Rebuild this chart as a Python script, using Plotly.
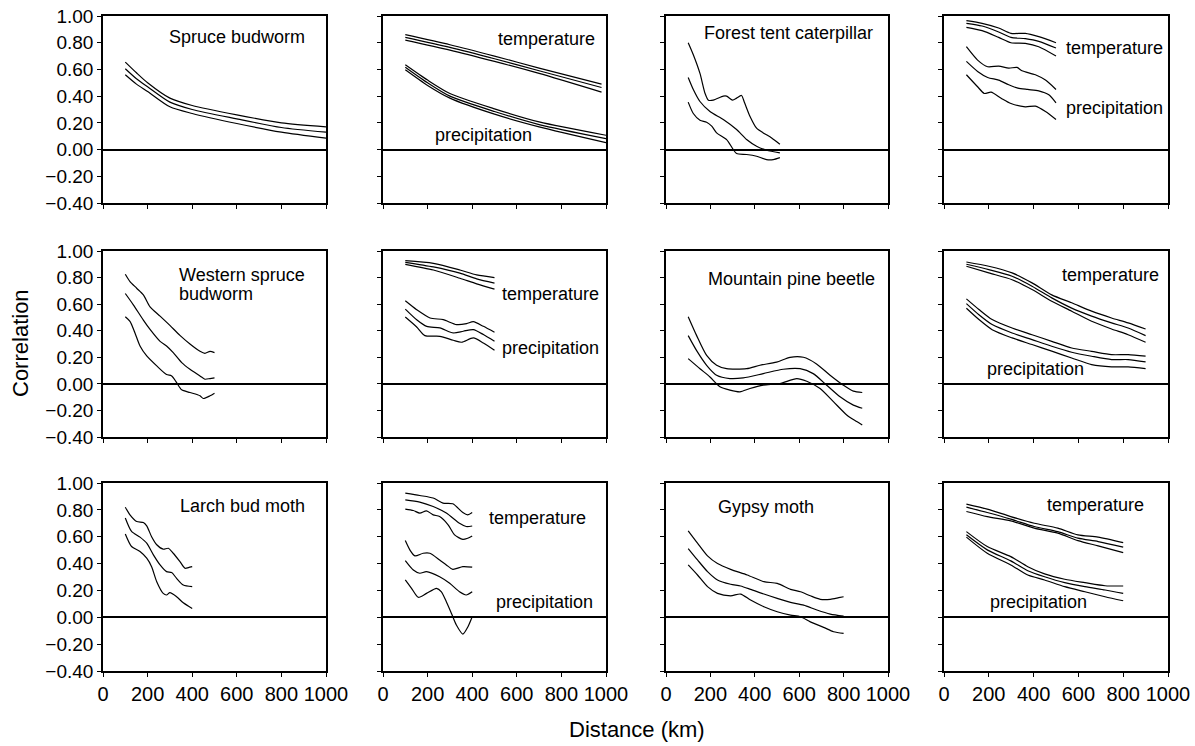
import plotly.graph_objects as go

# ---------------- data ----------------
# Panel 1: Spruce budworm
SB_X = [100, 150, 200, 300, 400, 600, 800, 1000]
SB_HI = [0.655, 0.575, 0.50, 0.385, 0.33, 0.26, 0.20, 0.17]
SB_MID = [0.605, 0.53, 0.47, 0.355, 0.30, 0.23, 0.165, 0.13]
SB_LO = [0.56, 0.49, 0.435, 0.32, 0.27, 0.195, 0.13, 0.085]

# Panel 2: climate for spruce budworm
C1_TX = [100, 300, 500, 700, 980]
C1_T_HI = [0.86, 0.785, 0.70, 0.61, 0.49]
C1_T_MID = [0.84, 0.765, 0.68, 0.59, 0.465]
C1_T_LO = [0.82, 0.745, 0.66, 0.57, 0.43]
C1_PX = [100, 200, 300, 500, 700, 1000]
C1_P_HI = [0.635, 0.52, 0.42, 0.305, 0.207, 0.107]
C1_P_MID = [0.617, 0.50, 0.40, 0.285, 0.187, 0.082]
C1_P_LO = [0.597, 0.48, 0.385, 0.265, 0.17, 0.052]

# Panel 3: Forest tent caterpillar
FT_HI_X = [100, 123, 153, 176, 191, 213, 258, 273, 300, 318, 340, 354, 378, 408, 438, 476, 513]
FT_HI = [0.80, 0.71, 0.57, 0.42, 0.37, 0.37, 0.40, 0.40, 0.37, 0.385, 0.405, 0.35, 0.25, 0.16, 0.125, 0.087, 0.04]
FT_MID_X = [100, 123, 153, 198, 258, 318, 363, 408, 453, 513]
FT_MID = [0.54, 0.45, 0.36, 0.285, 0.225, 0.15, 0.075, 0.025, -0.005, -0.025]
FT_LO_X = [100, 123, 153, 183, 206, 228, 273, 303, 318, 363, 408, 453, 483, 513]
FT_LO = [0.355, 0.27, 0.22, 0.205, 0.175, 0.125, 0.075, 0.0, -0.03, -0.037, -0.05, -0.075, -0.075, -0.06]

# Panel 4: climate for forest tent caterpillar
C2_TX = [100, 170, 244, 299, 363, 423, 500]
C2_T_HI = [0.965, 0.945, 0.91, 0.87, 0.87, 0.845, 0.80]
C2_T_MID = [0.945, 0.925, 0.88, 0.84, 0.83, 0.81, 0.76]
C2_T_LO = [0.915, 0.89, 0.84, 0.80, 0.795, 0.77, 0.70]
C2_P_HI_X = [100, 150, 195, 244, 289, 326, 348, 408, 453, 500]
C2_P_HI = [0.77, 0.67, 0.62, 0.625, 0.61, 0.615, 0.59, 0.56, 0.52, 0.45]
C2_P_MID_X = [100, 150, 195, 244, 289, 330, 374, 423, 468, 500]
C2_P_MID = [0.66, 0.585, 0.54, 0.52, 0.485, 0.46, 0.45, 0.44, 0.41, 0.35]
C2_P_LO_X = [100, 150, 180, 210, 255, 299, 363, 408, 453, 500]
C2_P_LO = [0.56, 0.47, 0.42, 0.43, 0.385, 0.345, 0.32, 0.325, 0.285, 0.225]

# Panel 5: Western spruce budworm
WS_HI_X = [100, 121, 151, 181, 211, 256, 300, 345, 390, 435, 457, 480, 500]
WS_HI = [0.825, 0.77, 0.72, 0.67, 0.58, 0.51, 0.44, 0.365, 0.30, 0.245, 0.23, 0.245, 0.235]
WS_MID_X = [100, 136, 181, 211, 256, 285, 315, 353, 390, 435, 457, 480, 500]
WS_MID = [0.68, 0.595, 0.48, 0.41, 0.32, 0.285, 0.235, 0.16, 0.11, 0.06, 0.035, 0.04, 0.045]
WS_LO_X = [100, 121, 143, 166, 196, 241, 285, 308, 330, 353, 390, 435, 450, 480, 500]
WS_LO = [0.505, 0.47, 0.385, 0.285, 0.21, 0.135, 0.07, 0.06, 0.01, -0.045, -0.065, -0.09, -0.11, -0.09, -0.07]

# Panel 6: climate for western spruce budworm
C3_TX = [100, 226, 345, 420, 500]
C3_T_HI = [0.927, 0.907, 0.857, 0.82, 0.80]
C3_T_MID = [0.915, 0.88, 0.833, 0.79, 0.758]
C3_T_LO = [0.90, 0.857, 0.795, 0.753, 0.713]
C3_P_HI_X = [100, 151, 211, 270, 330, 375, 405, 450, 500]
C3_P_HI = [0.625, 0.558, 0.496, 0.483, 0.446, 0.453, 0.468, 0.433, 0.388]
C3_P_MID_X = [100, 151, 196, 255, 315, 360, 405, 450, 500]
C3_P_MID = [0.563, 0.483, 0.433, 0.421, 0.383, 0.396, 0.408, 0.371, 0.32]
C3_P_LO_X = [100, 151, 188, 255, 315, 352, 405, 450, 500]
C3_P_LO = [0.503, 0.428, 0.363, 0.358, 0.328, 0.313, 0.346, 0.308, 0.253]

# Panel 7: Mountain pine beetle
MP_HI_X = [100, 138, 183, 228, 273, 363, 423, 498, 559, 619, 678, 739, 799, 844, 884]
MP_HI = [0.505, 0.363, 0.214, 0.14, 0.114, 0.114, 0.14, 0.164, 0.20, 0.20, 0.15, 0.065, -0.01, -0.055, -0.065]
MP_MID_X = [100, 138, 183, 228, 288, 348, 438, 528, 604, 663, 724, 784, 844, 884]
MP_MID = [0.363, 0.25, 0.14, 0.065, 0.04, 0.045, 0.077, 0.11, 0.114, 0.077, -0.01, -0.097, -0.16, -0.184]
MP_LO_X = [100, 153, 198, 243, 288, 333, 378, 438, 513, 589, 634, 694, 754, 814, 859, 884]
MP_LO = [0.19, 0.114, 0.052, -0.022, -0.047, -0.06, -0.035, -0.01, 0.002, 0.04, 0.02, -0.035, -0.134, -0.234, -0.284, -0.31]

# Panel 8: climate for mountain pine beetle
C4_TX = [100, 200, 304, 393, 481, 570, 659, 748, 822, 900]
C4_T_HI = [0.917, 0.885, 0.835, 0.76, 0.67, 0.61, 0.547, 0.496, 0.459, 0.413]
C4_T_MID = [0.90, 0.86, 0.81, 0.735, 0.647, 0.57, 0.51, 0.459, 0.42, 0.363]
C4_T_LO = [0.885, 0.835, 0.784, 0.71, 0.622, 0.547, 0.471, 0.413, 0.37, 0.313]
C4_PX = [100, 156, 215, 304, 393, 481, 570, 659, 748, 822, 900]
C4_P_HI = [0.64, 0.56, 0.484, 0.42, 0.37, 0.32, 0.27, 0.245, 0.22, 0.22, 0.208]
C4_P_MID = [0.604, 0.52, 0.446, 0.383, 0.333, 0.283, 0.238, 0.208, 0.183, 0.183, 0.165]
C4_P_LO = [0.569, 0.484, 0.408, 0.346, 0.296, 0.246, 0.195, 0.145, 0.128, 0.128, 0.115]

# Panel 9: Larch bud moth
LB_HI_X = [100, 121, 151, 181, 196, 218, 241, 270, 293, 315, 345, 368, 383, 400]
LB_HI = [0.82, 0.763, 0.713, 0.706, 0.681, 0.60, 0.54, 0.507, 0.514, 0.477, 0.415, 0.365, 0.37, 0.377]
LB_MID_X = [100, 128, 166, 196, 226, 256, 285, 308, 330, 360, 400]
LB_MID = [0.74, 0.64, 0.597, 0.552, 0.465, 0.39, 0.34, 0.333, 0.29, 0.24, 0.228]
LB_LO_X = [100, 128, 166, 196, 218, 241, 270, 285, 300, 330, 360, 400]
LB_LO = [0.62, 0.527, 0.49, 0.44, 0.377, 0.265, 0.178, 0.166, 0.183, 0.153, 0.108, 0.066]

# Panel 10: climate for larch bud moth
C5_T_HI_X = [100, 165, 225, 269, 313, 358, 380, 400]
C5_T_HI = [0.925, 0.907, 0.888, 0.85, 0.845, 0.78, 0.763, 0.78]
C5_T_MID_X = [100, 165, 225, 284, 343, 373, 400]
C5_T_MID = [0.875, 0.858, 0.825, 0.776, 0.70, 0.676, 0.68]
C5_T_LO_X = [100, 136, 165, 195, 225, 254, 292, 321, 358, 380, 400]
C5_T_LO = [0.806, 0.795, 0.776, 0.793, 0.763, 0.75, 0.689, 0.614, 0.58, 0.589, 0.606]
C5_P_HI_X = [100, 121, 143, 180, 210, 254, 284, 313, 358, 400]
C5_P_HI = [0.571, 0.50, 0.457, 0.477, 0.477, 0.427, 0.39, 0.357, 0.377, 0.373]
C5_P_MID_X = [100, 136, 165, 195, 254, 299, 343, 373, 400]
C5_P_MID = [0.422, 0.352, 0.328, 0.34, 0.302, 0.253, 0.19, 0.166, 0.19]
C5_P_LO_X = [100, 128, 158, 195, 240, 262, 284, 307, 329, 358, 381, 400]
C5_P_LO = [0.278, 0.216, 0.149, 0.178, 0.216, 0.19, 0.116, 0.029, -0.058, -0.125, -0.07, 0.004]

# Panel 11: Gypsy moth
GM_HI_X = [100, 142, 187, 232, 291, 366, 441, 501, 561, 606, 650, 695, 740, 778, 800]
GM_HI = [0.644, 0.552, 0.457, 0.40, 0.357, 0.315, 0.265, 0.253, 0.208, 0.19, 0.16, 0.134, 0.134, 0.146, 0.153]
GM_MID_X = [100, 142, 187, 232, 291, 336, 381, 441, 501, 561, 620, 680, 740, 800]
GM_MID = [0.512, 0.427, 0.34, 0.278, 0.246, 0.233, 0.208, 0.173, 0.141, 0.111, 0.091, 0.054, 0.024, 0.009]
GM_LO_X = [100, 142, 187, 232, 291, 336, 381, 441, 501, 561, 606, 650, 710, 755, 800]
GM_LO = [0.39, 0.315, 0.228, 0.178, 0.16, 0.173, 0.128, 0.078, 0.041, 0.016, 0.004, -0.034, -0.075, -0.108, -0.12]

# Panel 12: climate for gypsy moth
C6_TX = [100, 193, 298, 403, 508, 598, 688, 800]
C6_T_HI = [0.843, 0.806, 0.75, 0.70, 0.664, 0.614, 0.597, 0.556]
C6_T_MID = [0.82, 0.78, 0.731, 0.676, 0.638, 0.589, 0.564, 0.522]
C6_T_LO = [0.788, 0.75, 0.718, 0.664, 0.627, 0.571, 0.532, 0.482]
C6_PX = [100, 193, 298, 374, 449, 539, 629, 719, 800]
C6_P_HI = [0.638, 0.527, 0.452, 0.377, 0.323, 0.283, 0.258, 0.235, 0.233]
C6_P_MID = [0.614, 0.502, 0.42, 0.347, 0.302, 0.258, 0.228, 0.203, 0.178]
C6_P_LO = [0.597, 0.477, 0.39, 0.315, 0.278, 0.228, 0.19, 0.153, 0.123]

X_TICKS = [0, 200, 400, 600, 800, 1000]
Y_TICKS = [-0.4, -0.2, 0.0, 0.2, 0.4, 0.6, 0.8, 1.0]
Y_TICK_TEXT = ["\u22120.40", "\u22120.20", "0.00", "0.20", "0.40", "0.60", "0.80", "1.00"]

# panel contents: list of (x, y) line pairs, and labels (text, x, y)
PANELS = [
    [(SB_X, SB_HI), (SB_X, SB_MID), (SB_X, SB_LO)],
    [(C1_TX, C1_T_HI), (C1_TX, C1_T_MID), (C1_TX, C1_T_LO),
     (C1_PX, C1_P_HI), (C1_PX, C1_P_MID), (C1_PX, C1_P_LO)],
    [(FT_HI_X, FT_HI), (FT_MID_X, FT_MID), (FT_LO_X, FT_LO)],
    [(C2_TX, C2_T_HI), (C2_TX, C2_T_MID), (C2_TX, C2_T_LO),
     (C2_P_HI_X, C2_P_HI), (C2_P_MID_X, C2_P_MID), (C2_P_LO_X, C2_P_LO)],
    [(WS_HI_X, WS_HI), (WS_MID_X, WS_MID), (WS_LO_X, WS_LO)],
    [(C3_TX, C3_T_HI), (C3_TX, C3_T_MID), (C3_TX, C3_T_LO),
     (C3_P_HI_X, C3_P_HI), (C3_P_MID_X, C3_P_MID), (C3_P_LO_X, C3_P_LO)],
    [(MP_HI_X, MP_HI), (MP_MID_X, MP_MID), (MP_LO_X, MP_LO)],
    [(C4_TX, C4_T_HI), (C4_TX, C4_T_MID), (C4_TX, C4_T_LO),
     (C4_PX, C4_P_HI), (C4_PX, C4_P_MID), (C4_PX, C4_P_LO)],
    [(LB_HI_X, LB_HI), (LB_MID_X, LB_MID), (LB_LO_X, LB_LO)],
    [(C5_T_HI_X, C5_T_HI), (C5_T_MID_X, C5_T_MID), (C5_T_LO_X, C5_T_LO),
     (C5_P_HI_X, C5_P_HI), (C5_P_MID_X, C5_P_MID), (C5_P_LO_X, C5_P_LO)],
    [(GM_HI_X, GM_HI), (GM_MID_X, GM_MID), (GM_LO_X, GM_LO)],
    [(C6_TX, C6_T_HI), (C6_TX, C6_T_MID), (C6_TX, C6_T_LO),
     (C6_PX, C6_P_HI), (C6_PX, C6_P_MID), (C6_PX, C6_P_LO)],
]

LABELS = [
    [("Spruce budworm", 287, 0.84)],
    [("temperature", 507, 0.83), ("precipitation", 226, 0.107)],
    [("Forest tent caterpillar", 161, 0.87)],
    [("temperature", 534, 0.76), ("precipitation", 534, 0.31)],
    [("Western spruce", 330, 0.816), ("budworm", 330, 0.68)],
    [("temperature", 525, 0.674), ("precipitation", 525, 0.272)],
    [("Mountain pine beetle", 180, 0.786)],
    [("temperature", 519, 0.82), ("precipitation", 182, 0.113)],
    [("Larch bud moth", 338, 0.83)],
    [("temperature", 467, 0.739), ("precipitation", 497, 0.116)],
    [("Gypsy moth", 224, 0.825)],
    [("temperature", 449, 0.838), ("precipitation", 198, 0.116)],
]

# ---------------- layout geometry ----------------
W, H = 1195, 746
COLS_PX = [(103, 326), (383, 606), (666, 888), (944, 1168)]
ROWS_PX = [(16, 203), (251, 437), (483, 671)]
FONT = "Liberation Sans, Arial, Helvetica, sans-serif"

fig = go.Figure()
layout = dict(
    template="none",
    width=W, height=H, margin=dict(l=0, r=0, t=0, b=0, autoexpand=False),
    paper_bgcolor="white", plot_bgcolor="white", showlegend=False,
    font=dict(family=FONT, color="black"),
)
annotations = []

for i, lines in enumerate(PANELS):
    r, c = divmod(i, 4)
    n = i + 1
    xs = "" if n == 1 else str(n)
    for (lx, ly) in lines:
        fig.add_trace(go.Scatter(
            x=lx, y=ly, mode="lines", xaxis="x" + xs, yaxis="y" + xs,
            line=dict(color="black", width=1.2, shape="spline", smoothing=0.7),
            hoverinfo="skip"))
    x0, x1 = COLS_PX[c]
    y0, y1 = ROWS_PX[r]
    layout["xaxis" + xs] = dict(
        domain=[x0 / W, x1 / W], range=[0, 1000], anchor="y" + xs,
        tickvals=X_TICKS, showticklabels=(r == 2), ticks="outside",
        ticklen=4, tickwidth=1, tickcolor="black", automargin=False,
        tickfont=dict(size=20, family=FONT, color="black"),
        showline=True, mirror=True, linecolor="black", linewidth=1.5,
        showgrid=False, zeroline=False, fixedrange=True)
    layout["yaxis" + xs] = dict(
        domain=[1 - y1 / H, 1 - y0 / H], range=[-0.4, 1.0], anchor="x" + xs,
        tickvals=Y_TICKS, ticktext=Y_TICK_TEXT, showticklabels=(c == 0),
        ticks="outside", ticklen=4, tickwidth=1, tickcolor="black",
        automargin=False,
        tickfont=dict(size=19, family=FONT, color="black"),
        showline=True, mirror=True, linecolor="black", linewidth=1.5,
        showgrid=False, zeroline=True, zerolinecolor="black",
        zerolinewidth=1.5, fixedrange=True)
    for (txt, tx, ty) in LABELS[i]:
        annotations.append(dict(
            text=txt, x=tx, y=ty, xref="x" + xs, yref="y" + xs,
            xanchor="left", yanchor="middle", showarrow=False,
            font=dict(size=18, family=FONT, color="black")))

annotations.append(dict(
    text="Correlation", x=20 / W, y=1 - 343 / H, xref="paper", yref="paper",
    xanchor="center", yanchor="middle", textangle=-90, showarrow=False,
    font=dict(size=22, family=FONT, color="black")))
annotations.append(dict(
    text="Distance (km)", x=637 / W, y=1 - 729 / H, xref="paper", yref="paper",
    xanchor="center", yanchor="middle", showarrow=False,
    font=dict(size=22, family=FONT, color="black")))

layout["annotations"] = annotations
fig.update_layout(**layout)
fig.write_html("out.html")
